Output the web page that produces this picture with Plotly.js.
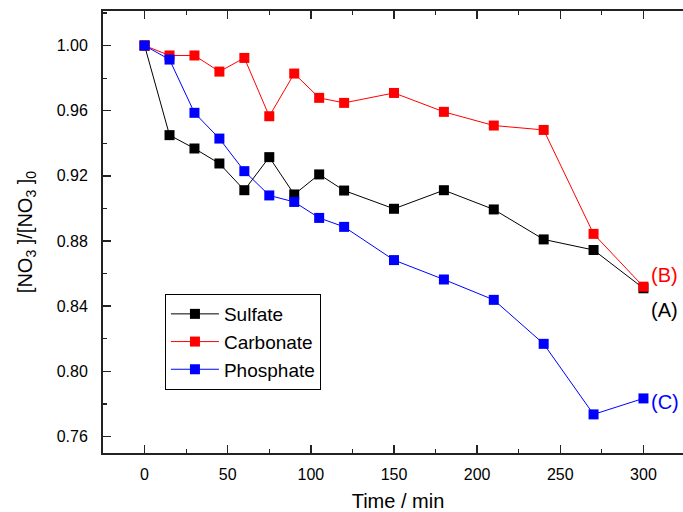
<!DOCTYPE html>
<html>
<head>
<meta charset="utf-8">
<script src="https://cdn.plot.ly/plotly-3.0.1.min.js"></script>
<style>
html,body{margin:0;padding:0;overflow:hidden;background:#fff;}
#chart{width:696px;height:512px;}
</style>
</head>
<body>
<div id="chart"></div>
<script>
const time = [0, 15, 30, 45, 60, 75, 90, 105, 120, 150, 180, 210, 240, 270, 300];
const sulfate = [1.000, 0.9450, 0.9368, 0.9276, 0.9112, 0.9315, 0.9086, 0.9209, 0.9110, 0.8998, 0.9112, 0.8994, 0.8810, 0.8745, 0.8510];
const carbonate = [1.000, 0.9939, 0.9939, 0.9840, 0.9924, 0.9566, 0.9828, 0.9679, 0.9648, 0.9709, 0.9593, 0.9509, 0.9482, 0.8844, 0.8520];
const phosphate = [1.000, 0.9914, 0.9587, 0.9429, 0.9229, 0.9080, 0.9040, 0.8942, 0.8887, 0.8683, 0.8564, 0.8439, 0.8169, 0.7736, 0.7834];
const seriesNames = ["Sulfate", "Carbonate", "Phosphate"];
const seriesColors = ["#000000", "#ff0000", "#0000ff"];
const labels = ["(A)", "(B)", "(C)"];
const labelY = [0.8376, 0.8591, 0.7810];
const yTicks = [0.76, 0.80, 0.84, 0.88, 0.92, 0.96, 1.00];
const xTicks = [0, 50, 100, 150, 200, 250, 300];

const font = "Liberation Sans, Arial, sans-serif";
const values = [sulfate, carbonate, phosphate];
const traces = values.map((v, i) => ({
  x: time, y: v, name: seriesNames[i], type: "scatter", mode: "lines+markers",
  line: {color: seriesColors[i], width: 1},
  marker: {symbol: "square", size: 10, color: seriesColors[i]}
}));

const annotations = labels.map((t, i) => ({
  x: 303.5, y: labelY[i], xref: "x", yref: "y", text: t, showarrow: false,
  xanchor: "left", yanchor: "middle",
  font: {family: font, size: 20, color: seriesColors[i]}
}));

// plot area: 103px .. 693px (right edge falls outside the 683px window, as in the reference)
const layout = {
  width: 696, height: 512,
  margin: {l: 103, r: 3, t: 11, b: 59},
  paper_bgcolor: "#fff", plot_bgcolor: "#fff",
  font: {family: font, color: "#000"},
  showlegend: true,
  legend: {
    x: 0.105, y: 0.3597, xanchor: "left", yanchor: "top",
    bordercolor: "#000", borderwidth: 1, bgcolor: "#fff",
    font: {family: font, size: 19}, tracegroupgap: 0, itemwidth: 48
  },
  xaxis: {
    range: [-25, 329.8], tickvals: xTicks, ticktext: xTicks.map(String),
    showgrid: false, zeroline: false,
    showline: true, linecolor: "#222", linewidth: 2, mirror: "ticks",
    ticks: "inside", ticklen: 8, tickwidth: 1.5, tickcolor: "#222",
    minor: {dtick: 25, tick0: 0, ticks: "inside", ticklen: 4, tickwidth: 1.2, tickcolor: "#222"},
    tickfont: {family: font, size: 16}, ticklabelstandoff: 6,
    title: {text: "Time / min", font: {family: font, size: 20}, standoff: 16}
  },
  yaxis: {
    range: [0.7499, 1.0212], tickvals: yTicks, ticktext: yTicks.map(v => v.toFixed(2)),
    showgrid: false, zeroline: false,
    showline: true, linecolor: "#222", linewidth: 2, mirror: "ticks",
    ticks: "inside", ticklen: 8, tickwidth: 1.5, tickcolor: "#222",
    minor: {dtick: 0.02, tick0: 0.76, ticks: "inside", ticklen: 4, tickwidth: 1.2, tickcolor: "#222"},
    tickfont: {family: font, size: 16}, ticklabelstandoff: 10,
    title: {text: "[NO<sub>3</sub> ]/[NO<sub>3</sub> ]<sub>0</sub>", font: {family: font, size: 20}, standoff: 19}
  },
  annotations: annotations
};

Plotly.newPlot("chart", traces, layout, {displayModeBar: false, staticPlot: true});
</script>
</body>
</html>
